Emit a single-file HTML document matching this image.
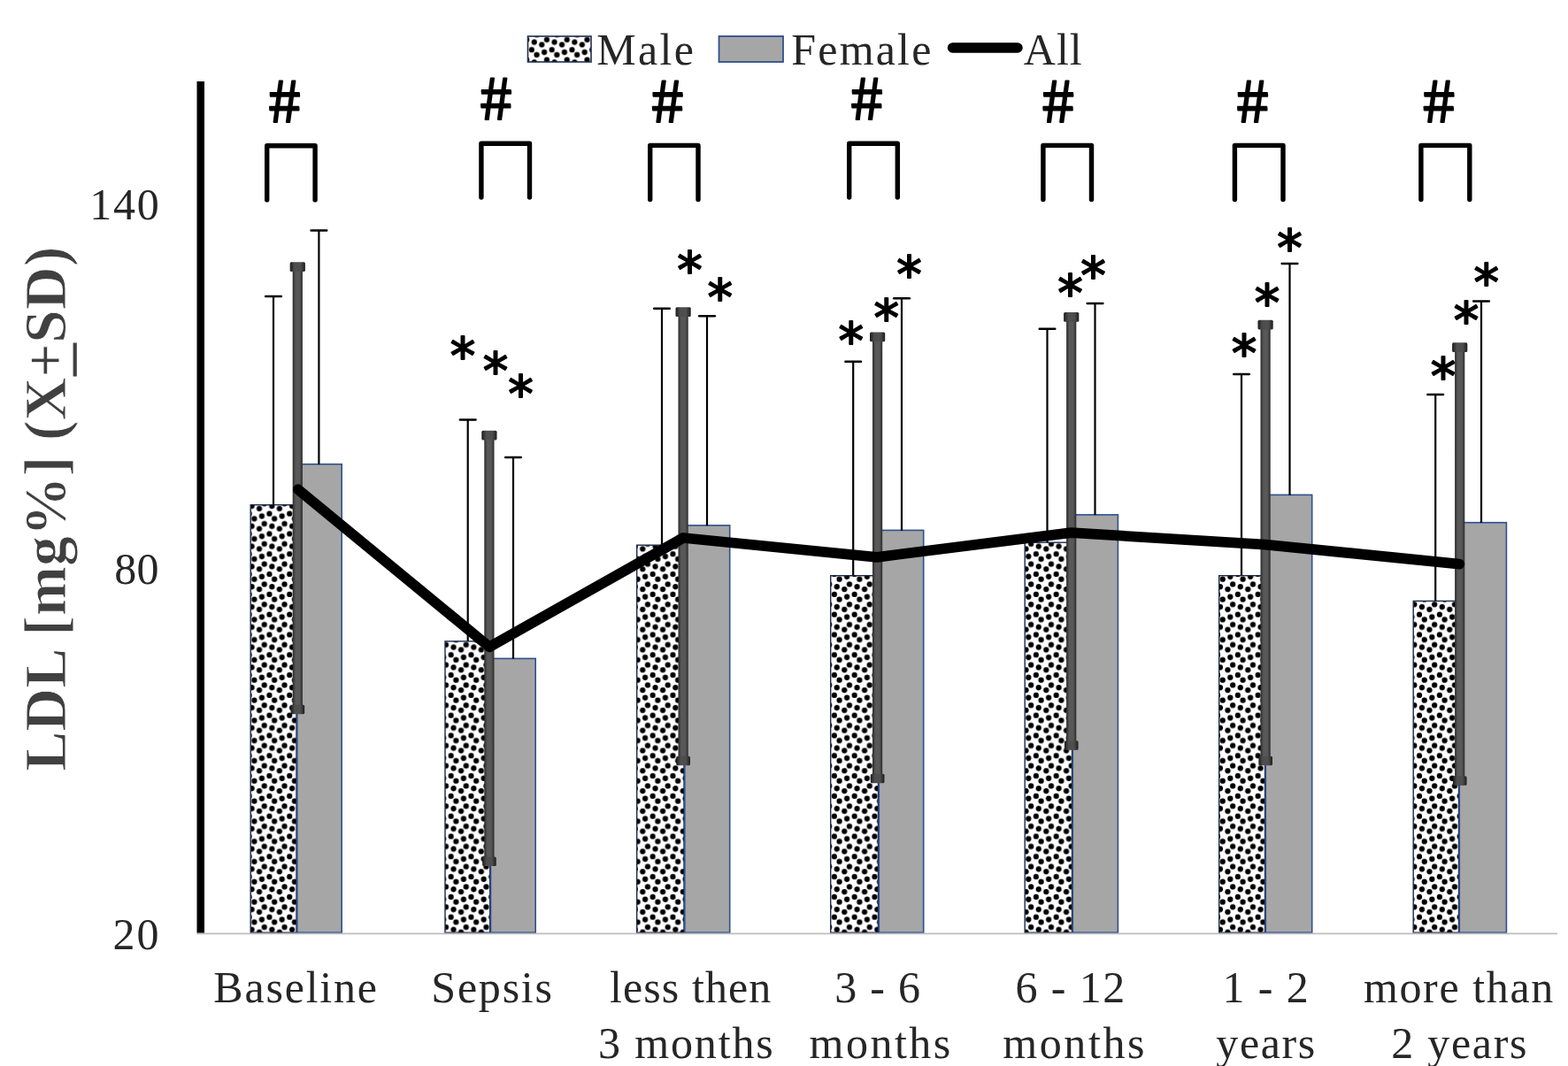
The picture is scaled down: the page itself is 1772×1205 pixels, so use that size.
<!DOCTYPE html>
<html lang="en"><head><meta charset="utf-8"><title>LDL chart</title>
<style>
html,body{margin:0;padding:0;background:#fff;}
body{width:1772px;height:1205px;overflow:hidden;}
svg{display:block;}
.s{font-family:"Liberation Serif", serif;font-size:50px;fill:#262626;}
.t{font-family:"Liberation Serif", serif;font-weight:bold;font-size:67px;fill:#404040;stroke:#fff;stroke-width:0.9;}
.h{font-family:"Liberation Sans", sans-serif;font-size:64px;fill:#000;stroke:#000;stroke-width:2.0;stroke-linejoin:round;}
.a{font-family:"DejaVu Sans", sans-serif;font-size:57px;fill:#000;stroke:#000;stroke-width:1.8;stroke-linejoin:round;}
</style></head><body>
<svg width="1772" height="1205" viewBox="0 0 1772 1205">
<defs>
<pattern id="dots" patternUnits="userSpaceOnUse" x="281.65" y="600.55" width="22.80" height="22.80">
<rect width="22.80" height="22.80" fill="#fff"/>
<circle cx="0.00" cy="2.85" r="3.12" fill="#000"/>
<circle cx="0.00" cy="25.65" r="3.12" fill="#000"/>
<circle cx="22.80" cy="2.85" r="3.12" fill="#000"/>
<circle cx="22.80" cy="25.65" r="3.12" fill="#000"/>
<circle cx="14.25" cy="5.70" r="3.12" fill="#000"/>
<circle cx="5.70" cy="8.55" r="3.12" fill="#000"/>
<circle cx="17.10" cy="14.25" r="3.12" fill="#000"/>
<circle cx="2.85" cy="17.10" r="3.12" fill="#000"/>
<circle cx="25.65" cy="17.10" r="3.12" fill="#000"/>
<circle cx="11.40" cy="-2.85" r="3.12" fill="#000"/>
<circle cx="11.40" cy="19.95" r="3.12" fill="#000"/>
</pattern>
<linearGradient id="eb" x1="0" x2="1" y1="0" y2="0"><stop offset="0" stop-color="#2a2a2a"/><stop offset="0.3" stop-color="#585858"/><stop offset="0.7" stop-color="#585858"/><stop offset="1" stop-color="#2a2a2a"/></linearGradient>
<linearGradient id="ec" x1="0" x2="1" y1="0" y2="0"><stop offset="0" stop-color="#1c1c1c"/><stop offset="0.3" stop-color="#4e4e4e"/><stop offset="0.7" stop-color="#4e4e4e"/><stop offset="1" stop-color="#1c1c1c"/></linearGradient>
</defs>
<g>
<rect width="1772" height="1205" fill="#fff"/>
<rect x="596.5" y="41" width="71.5" height="29" fill="url(#dots)" stroke="#1f2f4f" stroke-width="1.6"/>
<rect x="812.5" y="41" width="72.5" height="29" fill="#a6a6a6" stroke="#2f4f8f" stroke-width="1.8"/>
<line x1="1076.5" y1="54" x2="1150" y2="54" stroke="#000" stroke-width="11.5" stroke-linecap="round"/>
<text class="s" transform="translate(674.30 72.70) scale(1 1.03)" letter-spacing="2.30">Male</text>
<text class="s" transform="translate(894.30 72.70) scale(1 1.03)" letter-spacing="2.18">Female</text>
<text class="s" transform="translate(1156.80 72.70) scale(1 1.03)" letter-spacing="1.00">All</text>
<text class="s" transform="translate(101.30 247.50) scale(1 1.03)" letter-spacing="1.75">140</text>
<text class="s" transform="translate(129.30 660.20) scale(1 1.03)" letter-spacing="0.20">80</text>
<text class="s" transform="translate(127.50 1073.20) scale(1 1.03)" letter-spacing="2.00">20</text>
<text class="s" transform="translate(241.30 1133.00) scale(1 1.03)" letter-spacing="1.79">Baseline</text>
<text class="s" transform="translate(487.30 1133.00) scale(1 1.03)" letter-spacing="1.78">Sepsis</text>
<text class="s" transform="translate(689.00 1132.80) scale(1 1.03)" letter-spacing="1.10">less then</text>
<text class="s" transform="translate(675.90 1195.50) scale(1 1.03)" letter-spacing="1.87">3 months</text>
<text class="s" transform="translate(943.30 1132.80) scale(1 1.03)" letter-spacing="1.25">3 - 6</text>
<text class="s" transform="translate(914.50 1195.50) scale(1 1.03)" letter-spacing="2.50">months</text>
<text class="s" transform="translate(1147.50 1132.80) scale(1 1.03)" letter-spacing="1.40">6 - 12</text>
<text class="s" transform="translate(1133.30 1195.50) scale(1 1.03)" letter-spacing="2.58">months</text>
<text class="s" transform="translate(1381.40 1132.80) scale(1 1.03)" letter-spacing="1.40">1 - 2</text>
<text class="s" transform="translate(1374.30 1195.50) scale(1 1.03)" letter-spacing="1.62">years</text>
<text class="s" transform="translate(1541.00 1132.80) scale(1 1.03)" letter-spacing="1.62">more than</text>
<text class="s" transform="translate(1572.20 1195.50) scale(1 1.03)" letter-spacing="1.73">2 years</text>
<text class="t" transform="translate(73.70 871.60) rotate(-90)" x="0" y="0" letter-spacing="0.5">LDL [mg%] (X+SD)</text>
<rect x="82.6" y="387.5" width="4.2" height="38" fill="#404040"/>
<rect x="283.20" y="570.70" width="51.80" height="483.50" fill="url(#dots)" stroke="#1c2a4a" stroke-width="1.4"/>
<rect x="335.80" y="524.70" width="50.40" height="529.50" fill="#a6a6a6" stroke="#2f4f8f" stroke-width="1.6"/>
<rect x="503.00" y="724.90" width="50.70" height="329.30" fill="url(#dots)" stroke="#1c2a4a" stroke-width="1.4"/>
<rect x="554.50" y="744.40" width="50.70" height="309.80" fill="#a6a6a6" stroke="#2f4f8f" stroke-width="1.6"/>
<rect x="719.70" y="616.20" width="53.30" height="438.00" fill="url(#dots)" stroke="#1c2a4a" stroke-width="1.4"/>
<rect x="773.80" y="593.90" width="50.90" height="460.30" fill="#a6a6a6" stroke="#2f4f8f" stroke-width="1.6"/>
<rect x="938.70" y="650.70" width="53.80" height="403.50" fill="url(#dots)" stroke="#1c2a4a" stroke-width="1.4"/>
<rect x="993.30" y="599.40" width="50.40" height="454.80" fill="#a6a6a6" stroke="#2f4f8f" stroke-width="1.6"/>
<rect x="1158.20" y="613.20" width="53.30" height="441.00" fill="url(#dots)" stroke="#1c2a4a" stroke-width="1.4"/>
<rect x="1212.30" y="581.90" width="51.10" height="472.30" fill="#a6a6a6" stroke="#2f4f8f" stroke-width="1.6"/>
<rect x="1377.70" y="650.70" width="51.80" height="403.50" fill="url(#dots)" stroke="#1c2a4a" stroke-width="1.4"/>
<rect x="1430.30" y="559.40" width="52.40" height="494.80" fill="#a6a6a6" stroke="#2f4f8f" stroke-width="1.6"/>
<rect x="1597.20" y="679.40" width="51.30" height="374.80" fill="url(#dots)" stroke="#1c2a4a" stroke-width="1.4"/>
<rect x="1649.30" y="590.70" width="53.10" height="463.50" fill="#a6a6a6" stroke="#2f4f8f" stroke-width="1.6"/>
<line x1="222.5" y1="1055.3" x2="1760" y2="1055.3" stroke="#bdbdbd" stroke-width="1.8"/>
<rect x="222.5" y="92" width="8.5" height="962.5" fill="#000"/>
<path d="M309.00 334.50V570.50" stroke="#000" stroke-width="2.2" fill="none"/>
<path d="M300.20 335.00H317.80" stroke="#000" stroke-width="2.5" stroke-linecap="round" fill="none"/>
<path d="M360.40 260.00V525.00" stroke="#000" stroke-width="2.2" fill="none"/>
<path d="M351.60 260.50H369.20" stroke="#000" stroke-width="2.5" stroke-linecap="round" fill="none"/>
<path d="M528.70 474.00V724.70" stroke="#000" stroke-width="2.2" fill="none"/>
<path d="M519.90 474.50H537.50" stroke="#000" stroke-width="2.5" stroke-linecap="round" fill="none"/>
<path d="M580.00 516.50V744.70" stroke="#000" stroke-width="2.2" fill="none"/>
<path d="M571.20 517.00H588.80" stroke="#000" stroke-width="2.5" stroke-linecap="round" fill="none"/>
<path d="M748.00 348.20V616.00" stroke="#000" stroke-width="2.2" fill="none"/>
<path d="M739.20 348.70H756.80" stroke="#000" stroke-width="2.5" stroke-linecap="round" fill="none"/>
<path d="M799.00 356.70V594.20" stroke="#000" stroke-width="2.2" fill="none"/>
<path d="M790.20 357.20H807.80" stroke="#000" stroke-width="2.5" stroke-linecap="round" fill="none"/>
<path d="M964.20 408.20V650.50" stroke="#000" stroke-width="2.2" fill="none"/>
<path d="M955.40 408.70H973.00" stroke="#000" stroke-width="2.5" stroke-linecap="round" fill="none"/>
<path d="M1019.00 336.70V599.70" stroke="#000" stroke-width="2.2" fill="none"/>
<path d="M1010.20 337.20H1027.80" stroke="#000" stroke-width="2.5" stroke-linecap="round" fill="none"/>
<path d="M1183.50 371.20V613.00" stroke="#000" stroke-width="2.2" fill="none"/>
<path d="M1174.70 371.70H1192.30" stroke="#000" stroke-width="2.5" stroke-linecap="round" fill="none"/>
<path d="M1237.50 342.50V582.20" stroke="#000" stroke-width="2.2" fill="none"/>
<path d="M1228.70 343.00H1246.30" stroke="#000" stroke-width="2.5" stroke-linecap="round" fill="none"/>
<path d="M1403.00 422.50V650.50" stroke="#000" stroke-width="2.2" fill="none"/>
<path d="M1394.20 423.00H1411.80" stroke="#000" stroke-width="2.5" stroke-linecap="round" fill="none"/>
<path d="M1457.50 297.50V559.70" stroke="#000" stroke-width="2.2" fill="none"/>
<path d="M1448.70 298.00H1466.30" stroke="#000" stroke-width="2.5" stroke-linecap="round" fill="none"/>
<path d="M1622.20 445.50V679.20" stroke="#000" stroke-width="2.2" fill="none"/>
<path d="M1613.40 446.00H1631.00" stroke="#000" stroke-width="2.5" stroke-linecap="round" fill="none"/>
<path d="M1674.00 340.00V591.00" stroke="#000" stroke-width="2.2" fill="none"/>
<path d="M1665.20 340.50H1682.80" stroke="#000" stroke-width="2.5" stroke-linecap="round" fill="none"/>
<text class="a" x="523.00" y="421.60" text-anchor="middle">*</text>
<text class="a" x="560.10" y="438.60" text-anchor="middle">*</text>
<text class="a" x="588.60" y="464.50" text-anchor="middle">*</text>
<text class="a" x="779.50" y="324.90" text-anchor="middle">*</text>
<text class="a" x="813.70" y="356.40" text-anchor="middle">*</text>
<text class="a" x="961.70" y="404.60" text-anchor="middle">*</text>
<text class="a" x="1001.70" y="378.90" text-anchor="middle">*</text>
<text class="a" x="1027.50" y="330.40" text-anchor="middle">*</text>
<text class="a" x="1209.50" y="350.90" text-anchor="middle">*</text>
<text class="a" x="1235.50" y="330.60" text-anchor="middle">*</text>
<text class="a" x="1406.10" y="419.40" text-anchor="middle">*</text>
<text class="a" x="1432.00" y="362.30" text-anchor="middle">*</text>
<text class="a" x="1457.50" y="299.50" text-anchor="middle">*</text>
<text class="a" x="1631.00" y="444.60" text-anchor="middle">*</text>
<text class="a" x="1657.00" y="381.90" text-anchor="middle">*</text>
<text class="a" x="1679.70" y="338.90" text-anchor="middle">*</text>
<rect x="330.70" y="297.00" width="11.2" height="510.00" fill="url(#eb)"/>
<rect x="327.70" y="296.30" width="17.2" height="10.8" rx="1.5" fill="url(#ec)"/>
<rect x="328.55" y="796.80" width="15.6" height="10.4" rx="1.5" fill="url(#ec)"/>
<rect x="547.30" y="487.50" width="11.2" height="491.20" fill="url(#eb)"/>
<rect x="544.30" y="486.80" width="17.2" height="10.8" rx="1.5" fill="url(#ec)"/>
<rect x="545.15" y="968.50" width="15.6" height="10.4" rx="1.5" fill="url(#ec)"/>
<rect x="766.50" y="348.00" width="11.2" height="517.00" fill="url(#eb)"/>
<rect x="763.50" y="347.30" width="17.2" height="10.8" rx="1.5" fill="url(#ec)"/>
<rect x="764.35" y="854.80" width="15.6" height="10.4" rx="1.5" fill="url(#ec)"/>
<rect x="986.00" y="376.20" width="11.2" height="508.80" fill="url(#eb)"/>
<rect x="983.00" y="375.50" width="17.2" height="10.8" rx="1.5" fill="url(#ec)"/>
<rect x="983.85" y="874.80" width="15.6" height="10.4" rx="1.5" fill="url(#ec)"/>
<rect x="1205.10" y="353.70" width="11.2" height="493.80" fill="url(#eb)"/>
<rect x="1202.10" y="353.00" width="17.2" height="10.8" rx="1.5" fill="url(#ec)"/>
<rect x="1202.95" y="837.30" width="15.6" height="10.4" rx="1.5" fill="url(#ec)"/>
<rect x="1424.50" y="362.50" width="11.2" height="502.50" fill="url(#eb)"/>
<rect x="1421.50" y="361.80" width="17.2" height="10.8" rx="1.5" fill="url(#ec)"/>
<rect x="1422.35" y="854.80" width="15.6" height="10.4" rx="1.5" fill="url(#ec)"/>
<rect x="1644.10" y="388.00" width="11.2" height="499.50" fill="url(#eb)"/>
<rect x="1641.10" y="387.30" width="17.2" height="10.8" rx="1.5" fill="url(#ec)"/>
<rect x="1641.95" y="877.30" width="15.6" height="10.4" rx="1.5" fill="url(#ec)"/>
<polyline points="336.8,553.2 553.0,731.3 772.0,608.0 991.0,629.8 1210.5,602.2 1430.0,615.6 1649.3,637.6" fill="none" stroke="#000" stroke-width="11.8" stroke-linecap="round" stroke-linejoin="round"/>
<path d="M301.70 225.90V164.80H356.10V225.90" fill="none" stroke="#000" stroke-width="5.4" stroke-linecap="round" stroke-linejoin="round"/>
<path d="M543.90 223.00V162.20H598.50V223.00" fill="none" stroke="#000" stroke-width="5.4" stroke-linecap="round" stroke-linejoin="round"/>
<path d="M734.70 225.50V164.40H789.00V225.50" fill="none" stroke="#000" stroke-width="5.4" stroke-linecap="round" stroke-linejoin="round"/>
<path d="M959.70 223.00V162.20H1014.30V223.00" fill="none" stroke="#000" stroke-width="5.4" stroke-linecap="round" stroke-linejoin="round"/>
<path d="M1178.90 225.50V164.40H1233.50V225.50" fill="none" stroke="#000" stroke-width="5.4" stroke-linecap="round" stroke-linejoin="round"/>
<path d="M1395.40 225.50V164.40H1450.00V225.50" fill="none" stroke="#000" stroke-width="5.4" stroke-linecap="round" stroke-linejoin="round"/>
<path d="M1605.90 225.50V164.40H1660.80V225.50" fill="none" stroke="#000" stroke-width="5.4" stroke-linecap="round" stroke-linejoin="round"/>
<text class="h" text-anchor="middle" transform="translate(322.90 138.00) skewX(3.5) scale(0.97 1.06)" x="0" y="0">#</text>
<text class="h" text-anchor="middle" transform="translate(562.10 134.90) skewX(3.5) scale(0.97 1.06)" x="0" y="0">#</text>
<text class="h" text-anchor="middle" transform="translate(755.85 138.20) skewX(3.5) scale(0.97 1.06)" x="0" y="0">#</text>
<text class="h" text-anchor="middle" transform="translate(981.10 134.90) skewX(3.5) scale(0.97 1.06)" x="0" y="0">#</text>
<text class="h" text-anchor="middle" transform="translate(1197.35 138.20) skewX(3.5) scale(0.97 1.06)" x="0" y="0">#</text>
<text class="h" text-anchor="middle" transform="translate(1417.10 138.20) skewX(3.5) scale(0.97 1.06)" x="0" y="0">#</text>
<text class="h" text-anchor="middle" transform="translate(1627.60 138.20) skewX(3.5) scale(0.97 1.06)" x="0" y="0">#</text>
</g>
</svg>
</body></html>
